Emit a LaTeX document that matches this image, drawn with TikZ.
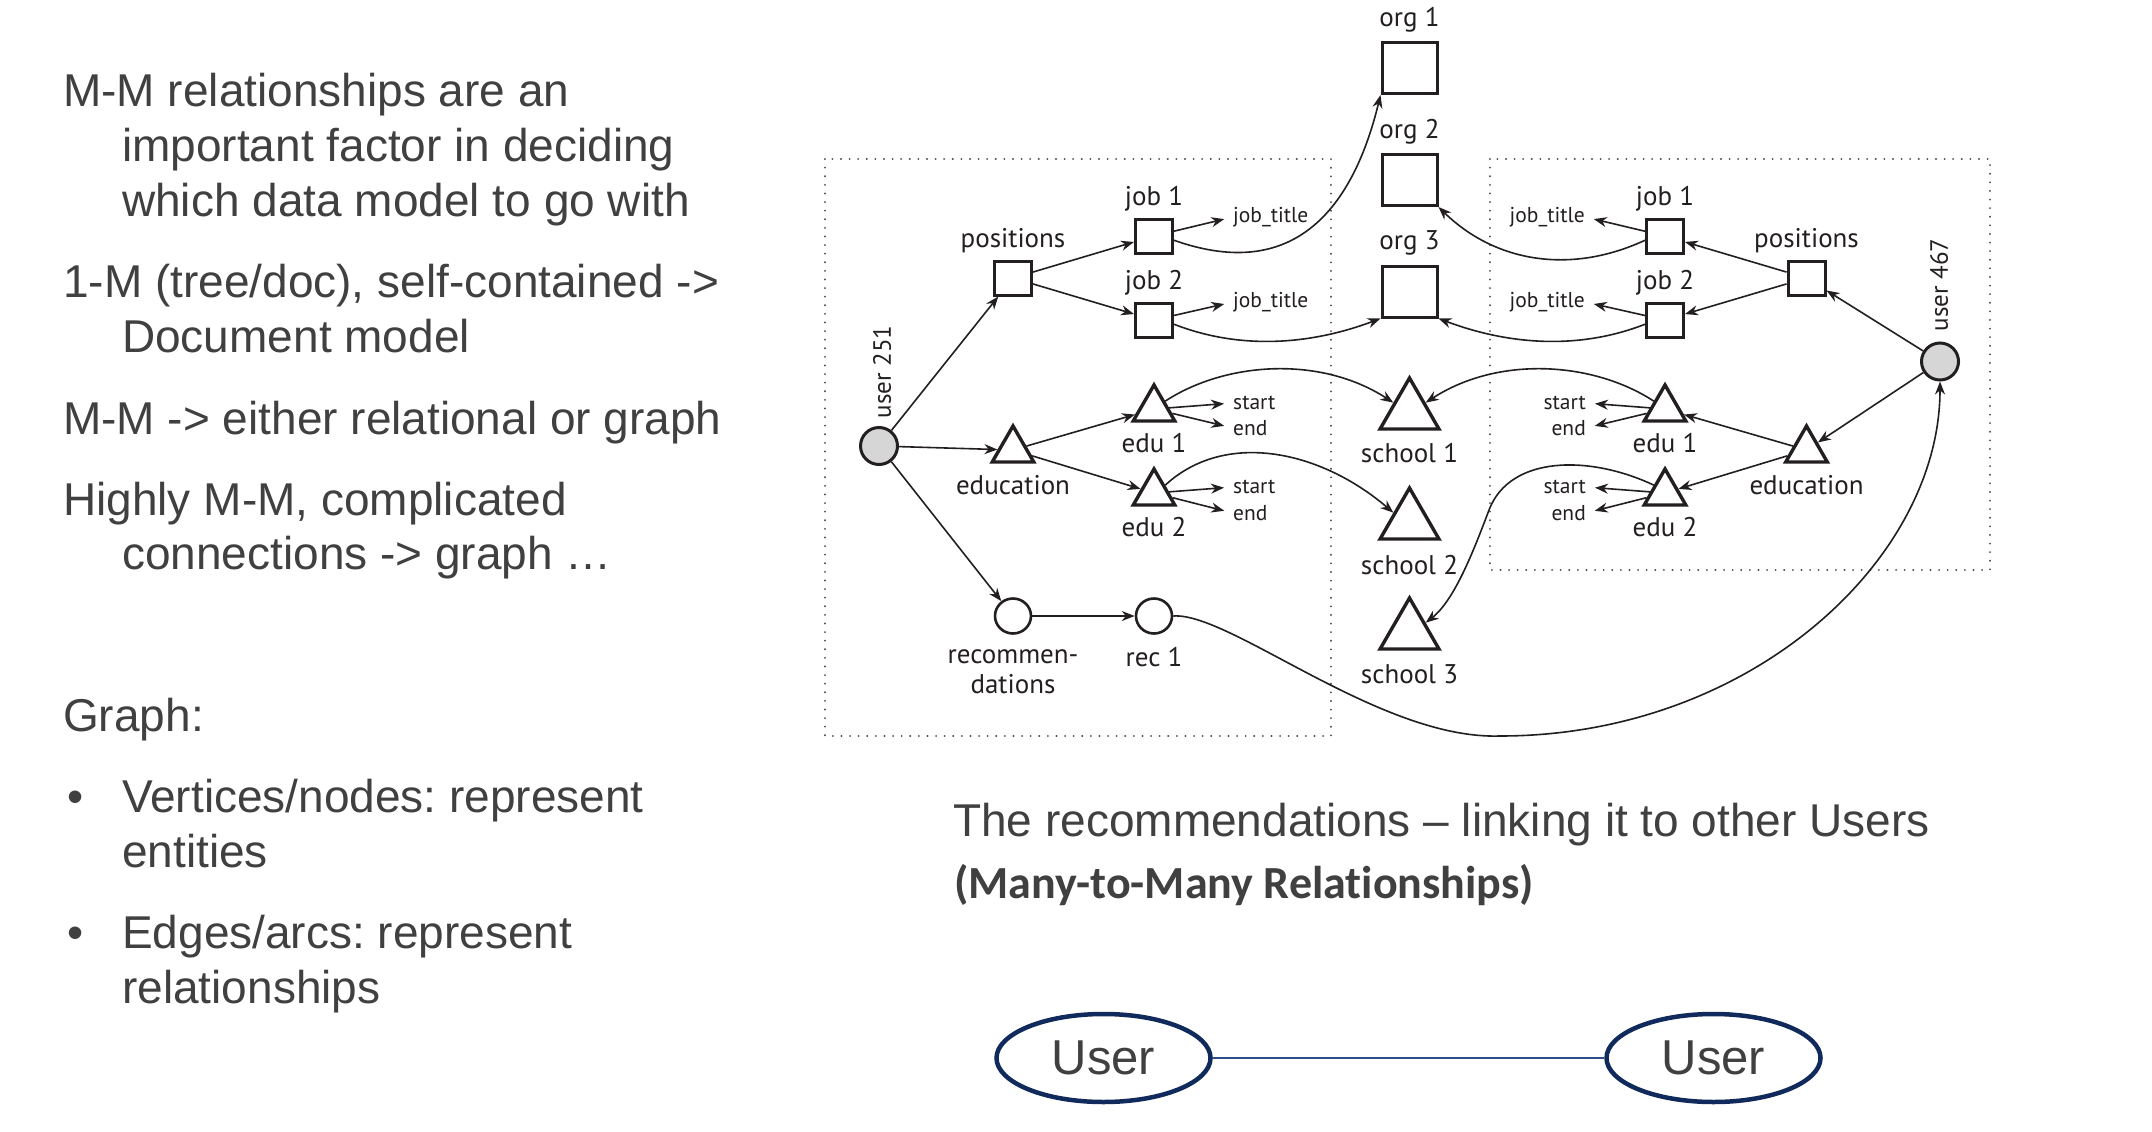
\documentclass[tikz,border=0pt]{standalone}
\usepackage{graphicx}
\usepackage{fontspec}
\setmainfont{Liberation Sans}
\newfontfamily\dg{PT Sans}
\newfontfamily\cb[Ligatures=NoCommon]{Carlito}
\usetikzlibrary{arrows.meta,shapes.geometric}
\definecolor{txt}{HTML}{404040}
\definecolor{ink}{HTML}{231F20}
\definecolor{navy}{HTML}{102A5C}
\definecolor{lnk}{HTML}{2E4C8A}
\definecolor{ufill}{HTML}{D6D6D6}
\frenchspacing
\begin{document}
\frenchspacing
\begin{tikzpicture}[x=1pt,y=1pt,
  sq/.style={draw=ink, line width=3pt, minimum width=37pt, minimum height=34pt, inner sep=0pt},
  orgbox/.style={sq, minimum width=55pt, minimum height=51pt},
  tri/.style={draw=ink, line width=3.4pt, regular polygon, regular polygon sides=3, minimum size=48pt, inner sep=0pt},
  school/.style={tri, minimum size=68pt},
  usr/.style={draw=ink, line width=3pt, circle, minimum size=37pt, inner sep=0pt, fill=ufill},
  recnode/.style={draw=ink, line width=2.6pt, ellipse, minimum width=36pt, minimum height=35pt, inner sep=0pt},
  lbl/.style={text=ink, font=\dg\fontsize{27}{30}\selectfont, inner sep=0pt},
  sml/.style={text=ink, font=\dg\fontsize{21.5}{24}\selectfont, inner sep=0pt},
  ulbl/.style={text=ink, font=\dg\fontsize{25}{28}\selectfont, inner sep=0pt, rotate=90},
  edge/.style={draw=ink, line width=1.6pt, -{Stealth[length=13pt,width=10pt]}},
  tolbl/.style={edge, shorten >=9pt},
  grp/.style={draw=ink!80, line width=2pt, dash pattern=on 0.1pt off 8.5pt, line cap=round},
  slide/.style={text=txt, font=\fontsize{46}{55}\selectfont, inner sep=0pt, anchor=base west},
  userell/.style={draw=navy, line width=4.5pt, ellipse, minimum width=214pt, minimum height=88pt, inner sep=0pt, text=txt, font=\fontsize{49}{52}\selectfont}
]
\useasboundingbox (0,0) rectangle (2152,-1132);
\fill[white] (0,0) rectangle (2152,-1132);

% ---- left slide text
\node[slide] (t1) at (63,-106) {M-M relationships are an};
\node[slide] (t2) at (122,-161) {important factor in deciding};
\node[slide] (t3) at (122,-216) {which data model to go with};
\node[slide] (t4) at (63,-297) {1-M (tree/doc), self-contained ->};
\node[slide] (t5) at (122,-352) {Document model};
\node[slide] (t6) at (63,-434) {M-M -> either relational or graph};
\node[slide] (t7) at (63,-515) {Highly M-M, complicated};
\node[slide] (t8) at (122,-569) {connections -> graph …};
\node[slide] (t9) at (63,-731) {Graph:};
\node[slide] (b1) at (67,-812) {•};
\node[slide] (t10) at (122,-812) {Vertices/nodes: represent};
\node[slide] (t11) at (122,-867) {entities};
\node[slide] (b2) at (67,-948) {•};
\node[slide] (t12) at (122,-948) {Edges/arcs: represent};
\node[slide] (t13) at (122,-1003) {relationships};

% ---- caption
\node[slide] (cap1) at (953,-836) {The recommendations – linking it to other Users};
\node[slide, font=\cb\bfseries\fontsize{46}{50}\selectfont] (cap2) at (954,-898) {(Many-to-Many Relationships)};

% ---- group boxes
\draw[grp] (825,-159) rectangle (1331,-736);
\draw[grp] (1490,-159) rectangle (1990,-570);

% ---- left user
\node[usr] (u251) at (879,-446) {};
\node[ulbl] (lu251) at (882,-372) {user 251};
\node[sq] (pos1) at (1013,-278) {};
\node[lbl] (lpos1) at (1013,-241) {positions};
\node[sq] (job1L) at (1154,-236) {};
\node[lbl] (ljob1L) at (1154,-199) {job 1};
\node[sq] (job2L) at (1154,-320) {};
\node[lbl] (ljob2L) at (1154,-283) {job 2};
\node[tri] (eduL) at (1013,-450) {};
\node[lbl] (leduL) at (1013,-485) {education};
\node[tri] (edu1L) at (1154,-409) {};
\node[lbl] (ledu1L) at (1154,-443) {edu 1};
\node[tri] (edu2L) at (1154,-493) {};
\node[lbl] (ledu2L) at (1154,-527) {edu 2};
\node[recnode] (recs) at (1013,-616) {};
\node[lbl, align=center] (lrecs) at (1013,-672) {recommen-\\dations};
\node[recnode] (rec1) at (1154,-616) {};
\node[lbl] (lrec1) at (1154,-657) {rec 1};
\node[sml, anchor=west] (jt1L) at (1233,-217) {job\_title};
\node[sml, anchor=west] (jt2L) at (1233,-302) {job\_title};
\node[sml, anchor=west] (st1L) at (1233,-403) {start};
\node[sml, anchor=west] (en1L) at (1233,-428) {end};
\node[sml, anchor=west] (st2L) at (1233,-487) {start};
\node[sml, anchor=west] (en2L) at (1233,-513) {end};

% ---- middle
\node[orgbox] (org1) at (1409.5,-68) {};
\node[lbl] (lorg1) at (1409.5,-20) {org 1};
\node[orgbox] (org2) at (1409.5,-180) {};
\node[lbl] (lorg2) at (1409.5,-132) {org 2};
\node[orgbox] (org3) at (1409.5,-291.5) {};
\node[lbl] (lorg3) at (1409.5,-243) {org 3};
\node[school] (school1) at (1409.5,-412) {};
\node[lbl] (lschool1) at (1409.5,-453) {school 1};
\node[school] (school2) at (1409.5,-522) {};
\node[lbl] (lschool2) at (1409.5,-565) {school 2};
\node[school] (school3) at (1409.5,-632) {};
\node[lbl] (lschool3) at (1409.5,-674) {school 3};

% ---- right user
\node[usr] (u467) at (1940,-361.5) {};
\node[ulbl] (lu467) at (1939,-285) {user 467};
\node[sq] (posR) at (1806.5,-278) {};
\node[lbl] (lposR) at (1806.5,-241) {positions};
\node[sq] (job1R) at (1665,-236) {};
\node[lbl] (ljob1R) at (1665,-199) {job 1};
\node[sq] (job2R) at (1665,-320) {};
\node[lbl] (ljob2R) at (1665,-283) {job 2};
\node[tri] (eduR) at (1806.5,-450) {};
\node[lbl] (leduR) at (1806.5,-485) {education};
\node[tri] (edu1R) at (1665,-409) {};
\node[lbl] (ledu1R) at (1665,-443) {edu 1};
\node[tri] (edu2R) at (1665,-493) {};
\node[lbl] (ledu2R) at (1665,-527) {edu 2};
\node[sml, anchor=east] (jt1R) at (1585,-217) {job\_title};
\node[sml, anchor=east] (jt2R) at (1585,-302) {job\_title};
\node[sml, anchor=east] (st1R) at (1586,-403) {start};
\node[sml, anchor=east] (en1R) at (1586,-428) {end};
\node[sml, anchor=east] (st2R) at (1586,-487) {start};
\node[sml, anchor=east] (en2R) at (1586,-513) {end};

% ---- straight edges left
\draw[edge] (u251) -- (pos1);
\draw[edge] (u251) -- (eduL);
\draw[edge] (u251) -- (recs);
\draw[edge] (pos1) -- (job1L);
\draw[edge] (pos1) -- (job2L);
\draw[edge] (eduL) -- (edu1L);
\draw[edge] (eduL) -- (edu2L);
\draw[edge] (recs) -- (rec1);
\draw[tolbl] (job1L) -- (jt1L.west);
\draw[tolbl] (job2L) -- (jt2L.west);
\draw[tolbl] (edu1L) -- (st1L.west);
\draw[tolbl] (edu1L) -- (en1L.west);
\draw[tolbl] (edu2L) -- (st2L.west);
\draw[tolbl] (edu2L) -- (en2L.west);

% ---- straight edges right
\draw[edge] (u467) -- (posR);
\draw[edge] (u467) -- (eduR);
\draw[edge] (posR) -- (job1R);
\draw[edge] (posR) -- (job2R);
\draw[edge] (eduR) -- (edu1R);
\draw[edge] (eduR) -- (edu2R);
\draw[tolbl] (job1R) -- (jt1R.east);
\draw[tolbl] (job2R) -- (jt2R.east);
\draw[tolbl] (edu1R) -- (st1R.east);
\draw[tolbl] (edu1R) -- (en1R.east);
\draw[tolbl] (edu2R) -- (st2R.east);
\draw[tolbl] (edu2R) -- (en2R.east);

% ---- curves
\draw[edge] (job1L.-12) .. controls (1300,-285) and (1355,-200) .. (org1.south west);
\draw[edge] (job2L.-12) .. controls (1240,-350) and (1310,-345) .. (org3.south west);
\draw[edge] (edu1L.35) .. controls (1225,-362) and (1320,-355) .. (school1.150);
\draw[edge] (edu2L.35) .. controls (1225,-430) and (1320,-450) .. (school2.150);
\draw[edge] (job1R.192) .. controls (1570,-275) and (1495,-262) .. (org2.south east);
\draw[edge] (job2R.192) .. controls (1579,-350) and (1509,-345) .. (org3.south east);
\draw[edge] (edu1R.145) .. controls (1594,-362) and (1499,-355) .. (school1.30);
\draw[edge] (edu2R.145) .. controls (1590,-455) and (1510,-455) .. (1489,-510) .. controls (1475,-547) and (1455,-600) .. (school3.30);
\draw[edge] (rec1.east) .. controls (1230,-612) and (1380,-740) .. (1500,-736) .. controls (1750,-736) and (1940,-560) .. (u467.south);

% ---- bottom user pair
\node[userell] (userA) at (1103.5,-1058) {User};
\node[userell] (userB) at (1713.5,-1058) {User};
\draw[lnk, line width=2pt] (userA) -- (userB);
\end{tikzpicture}
\end{document}
